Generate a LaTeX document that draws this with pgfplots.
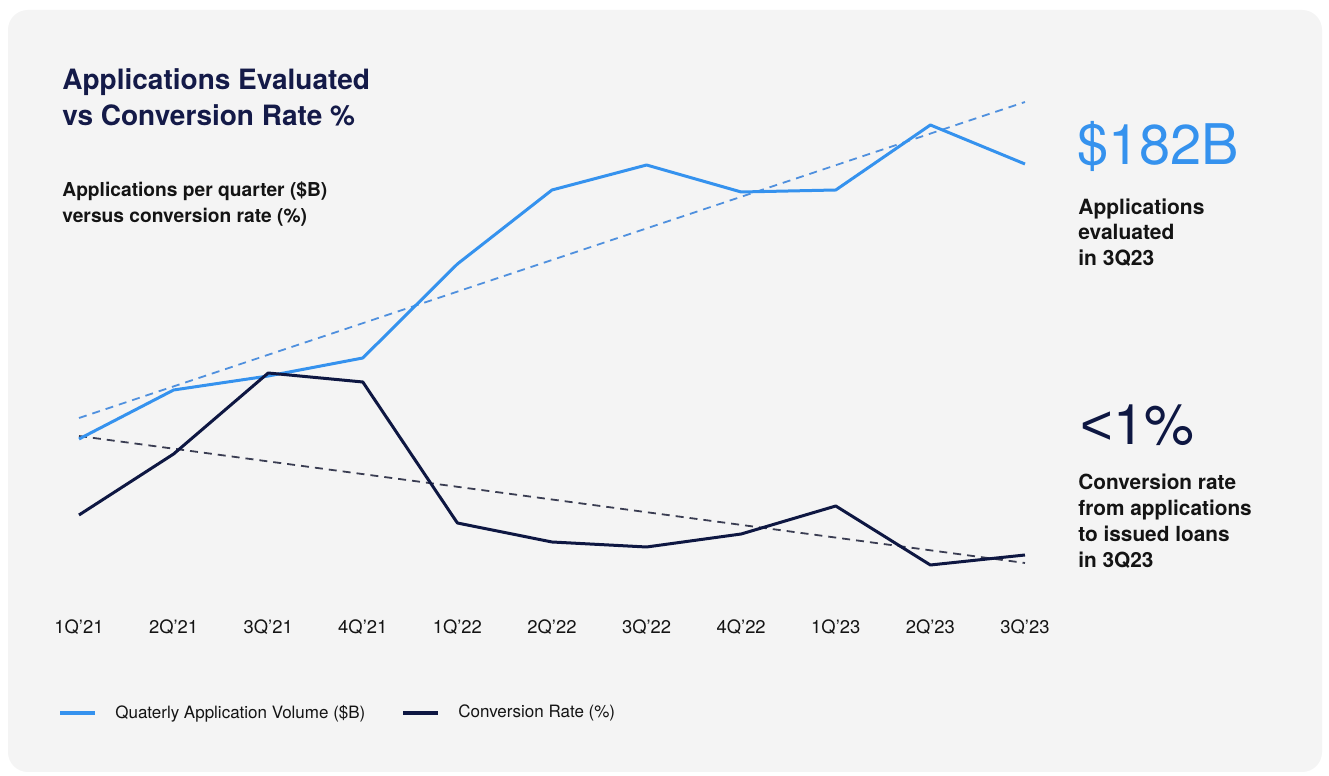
\documentclass[border=0pt]{standalone}
\usepackage{pgfplots}
\pgfplotsset{compat=1.18}
\usepackage{fontspec}
\setmainfont{TeX Gyre Heros}
\newfontfamily\libsans{Liberation Sans}
\definecolor{cblue}{HTML}{3592EE}
\definecolor{cnavy}{HTML}{0E1742}
\definecolor{ctitle}{HTML}{141A48}
\definecolor{cbg}{HTML}{F4F4F4}
\definecolor{ctext}{HTML}{141414}
\definecolor{cbluedash}{HTML}{4F90DE}
\definecolor{cnavydash}{HTML}{3A3D52}

\pgfplotstableread{
x vol rate
0 337 261
1 386 322
2 400 403
3 418 394
4 512 253
5 586 234
6 611 229
7 584 242
8 586 270
9 651 211
10 612 221
}\datatable

\begin{document}
\begin{tikzpicture}[x=0.5pt,y=0.5pt]
\fill[white] (0,0) rectangle (1329,776);
\fill[cbg, rounded corners=10pt] (8,4) rectangle (1322,766);

% title
\node[anchor=base west, inner sep=0, font=\fontsize{14}{16}\selectfont\bfseries, text=ctitle] at (62,776-90) {Applications Evaluated};
\node[anchor=base west, inner sep=0, font=\fontsize{14}{16}\selectfont\bfseries, text=ctitle] at (62,776-126) {vs Conversion Rate \%};
\node[anchor=base west, inner sep=0, font=\fontsize{9.6}{11}\selectfont\bfseries, text=ctext] at (62,776-197) {Applications per quarter (\$B)};
\node[anchor=base west, inner sep=0, font=\fontsize{9.6}{11}\selectfont\bfseries, text=ctext] at (62,776-223) {versus conversion rate (\%)};

% right callouts
\node[anchor=base west, inner sep=0, font=\fontsize{28}{30}\selectfont, text=cblue] at (1077,776-165) {\$182B};
\node[anchor=base west, inner sep=0, font=\fontsize{10.5}{12}\selectfont\bfseries, text=ctext] at (1078,776-215) {Applications};
\node[anchor=base west, inner sep=0, font=\fontsize{10.5}{12}\selectfont\bfseries, text=ctext] at (1078,776-240) {evaluated};
\node[anchor=base west, inner sep=0, font=\fontsize{10.5}{12}\selectfont\bfseries, text=ctext] at (1078,776-266) {in 3Q23};

\node[anchor=base west, inner sep=0, font=\fontsize{28}{30}\selectfont, text=cnavy] at (1080,776-445) {{\libsans <}1\%};
\node[anchor=base west, inner sep=0, font=\fontsize{10.4}{12}\selectfont\bfseries, text=ctext] at (1078,776-490) {Conversion rate};
\node[anchor=base west, inner sep=0, font=\fontsize{10.4}{12}\selectfont\bfseries, text=ctext] at (1078,776-516) {from applications};
\node[anchor=base west, inner sep=0, font=\fontsize{10.4}{12}\selectfont\bfseries, text=ctext] at (1078,776-542) {to issued loans};
\node[anchor=base west, inner sep=0, font=\fontsize{10.4}{12}\selectfont\bfseries, text=ctext] at (1078,776-568) {in 3Q23};

\begin{axis}[
  at={(0pt,83pt)}, anchor=south west,
  scale only axis, width=664.5pt, height=275pt,
  xmin=-0.8351, xmax=13.214, ymin=166, ymax=716,
  axis line style={draw=none}, tick style={draw=none},
  ytick=\empty,
  xtick={0,...,10},
  xticklabels={1Q'21,2Q'21,3Q'21,4Q'21,1Q'22,2Q'22,3Q'22,4Q'22,1Q'23,2Q'23,3Q'23},
  xticklabel style={font=\fontsize{9.2}{10}\selectfont, text=ctext, yshift=-1.5pt},
  clip=false,
  legend style={at={(0.0436,-0.1873)}, anchor=west, draw=none, fill=none, inner sep=0pt,
    font=\fontsize{8.5}{10}\selectfont, text=ctext, legend columns=2,
    /tikz/every odd column/.append style={column sep=7pt},
    /tikz/every even column/.append style={column sep=16pt}},
  legend image code/.code={\draw[#1, line width=2pt] (0pt,0pt) -- (17.5pt,0pt);},
]
\addplot[cbluedash, line width=0.9pt, dash pattern=on 4pt off 3pt, forget plot] coordinates {(0,358) (10,674)};
\addplot[cnavydash, line width=0.9pt, dash pattern=on 4pt off 3pt, forget plot] coordinates {(0,340) (10,213)};
\addplot[cblue, line width=1.5pt, line join=round] table[x=x, y=vol] {\datatable};
\addlegendentry{Quaterly Application Volume (\$B)}
\addplot[cnavy, line width=1.5pt, line join=round] table[x=x, y=rate] {\datatable};
\addlegendentry{Conversion Rate (\%)}
\end{axis}
\end{tikzpicture}
\end{document}
